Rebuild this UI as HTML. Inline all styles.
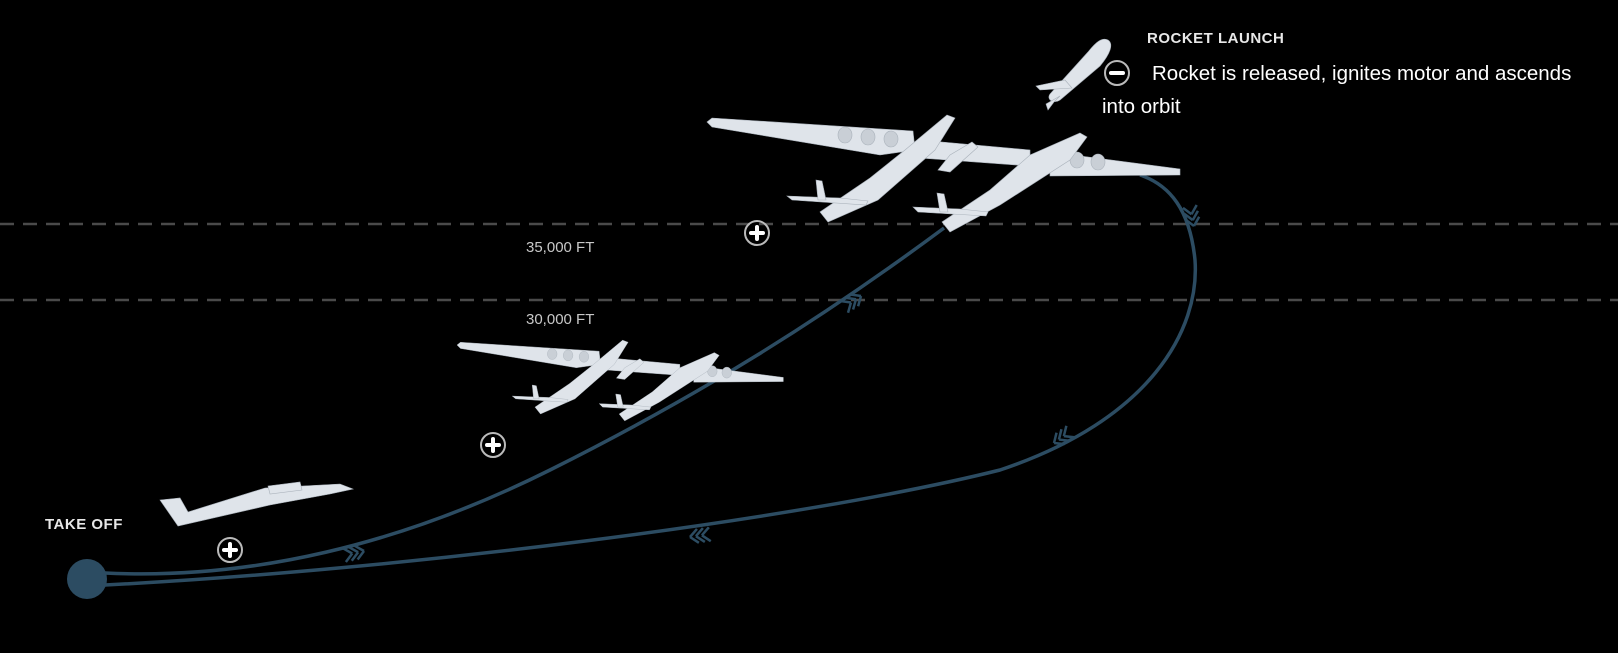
<!DOCTYPE html>
<html><head><meta charset="utf-8"><style>
html,body{margin:0;padding:0;background:#000;}
body{width:1618px;height:653px;overflow:hidden;position:relative;font-family:"Liberation Sans",sans-serif;}
</style></head><body>
<svg width="1618" height="653" viewBox="0 0 1618 653" xmlns="http://www.w3.org/2000/svg" style="position:absolute;left:0;top:0">
<defs>
<g id="plane" fill="#dfe4ea" stroke="#aab2bb" stroke-width="0.6">
  <polygon points="707,122 712,118 913,131 915,150 880,155 712,127"/>
  <polygon points="920,140 1030,150 1030,166 920,158"/>
  <polygon points="1050,152 1180,169 1180,175 1050,176"/>
  <ellipse cx="845" cy="135" rx="7" ry="8" fill="#c9cfd6"/>
  <ellipse cx="868" cy="137" rx="7" ry="8" fill="#c9cfd6"/>
  <ellipse cx="891" cy="139" rx="7" ry="8" fill="#c9cfd6"/>
  <ellipse cx="1077" cy="160" rx="7" ry="8" fill="#c9cfd6"/>
  <ellipse cx="1098" cy="162" rx="7" ry="8" fill="#c9cfd6"/>
  <polygon points="947,115 955,118 935,150 878,200 828,222 820,212 870,178 905,150"/>
  <polygon points="1080,133 1087,137 1070,160 1000,205 950,232 942,222 990,190 1030,155"/>
  <polygon points="972,142 978,147 950,172 938,170 950,155"/>
  <polygon points="787,196 840,198 868,201 866,205 792,200"/>
  <polygon points="816,180 822,181 826,200 818,200"/>
  <polygon points="913,207 960,209 988,212 986,216 918,212"/>
  <polygon points="937,193 944,194 948,212 940,212"/>
</g>
<path id="chev" d="M0,0 l-8,-7 M0,0 l-8,7 M-6,0 l-8,-7 M-6,0 l-8,7 M-12,0 l-8,-7 M-12,0 l-8,7"/>
</defs>
<line x1="0" y1="224" x2="1618" y2="224" stroke="#4a4a4a" stroke-width="2.5" stroke-dasharray="14,9"/>
<line x1="0" y1="300" x2="1618" y2="300" stroke="#4a4a4a" stroke-width="2.5" stroke-dasharray="14,9"/>
<text x="526" y="252" fill="#c8c8c8" font-size="15">35,000 FT</text>
<text x="526" y="324" fill="#c8c8c8" font-size="15">30,000 FT</text>

<g fill="none" stroke="#2c4c62" stroke-width="3.5">
<path d="M105,573 C250,580 400,545 550,470 S820,320 944,228"/>
<path d="M105,585 C400,570 800,520 1000,470 C1150,420 1200,330 1195,260 C1190,210 1170,185 1140,175"/>
</g>
<g fill="none" stroke="#2c4c62" stroke-width="2.5">
  <use href="#chev" transform="translate(364,551) rotate(-12)"/>
  <use href="#chev" transform="translate(861,296) rotate(-33)"/>
  <use href="#chev" transform="translate(1194,226) rotate(78)"/>
  <use href="#chev" transform="translate(1054,443) rotate(145)"/>
  <use href="#chev" transform="translate(690,537) rotate(172)"/>
</g>
<circle cx="87" cy="579" r="20" fill="#2c4c62"/>

<use href="#plane"/>
<use href="#plane" transform="translate(457,345) scale(0.69) translate(-707,-122)"/>
<g fill="#dfe4ea" stroke="#aab2bb" stroke-width="0.6">
  <polygon points="160,500 180,498 188,512 265,488 340,484 353,489 330,494 270,505 178,526"/>
  <polygon points="268,486 300,482 302,490 270,494"/>
</g>
<g fill="#dfe4ea" stroke="#aab2bb" stroke-width="0.6">
  <path d="M1108,40 C1114,44 1110,54 1100,66 L1060,100 C1054,104 1046,100 1050,94 L1088,52 C1096,42 1102,37 1108,40 Z"/>
  <polygon points="1065,80 1072,88 1040,90 1036,86"/>
  <polygon points="1060,96 1054,102 1048,110 1046,104"/>
</g>

<g stroke="#bbb" stroke-width="2" fill="none">
  <circle cx="757" cy="233" r="12"/><circle cx="493" cy="445" r="12"/><circle cx="230" cy="550" r="12"/>
  <circle cx="1117" cy="73" r="12"/>
</g>
<g stroke="#fff" stroke-width="4" stroke-linecap="round">
  <path d="M751,233 h12 M757,227 v12"/>
  <path d="M487,445 h12 M493,439 v12"/>
  <path d="M224,550 h12 M230,544 v12"/>
  <path d="M1111,73 h12"/>
</g>

<text x="45" y="529" fill="#e8e8e8" font-size="15" font-weight="bold" letter-spacing="0.5">TAKE OFF</text>
<text x="1147" y="43" fill="#e8e8e8" font-size="15" font-weight="bold" letter-spacing="0.5">ROCKET LAUNCH</text>
<text x="1152" y="80" fill="#fff" font-size="20.5">Rocket is released, ignites motor and ascends</text>
<text x="1102" y="113" fill="#fff" font-size="20.5">into orbit</text>
</svg>
</body></html>
